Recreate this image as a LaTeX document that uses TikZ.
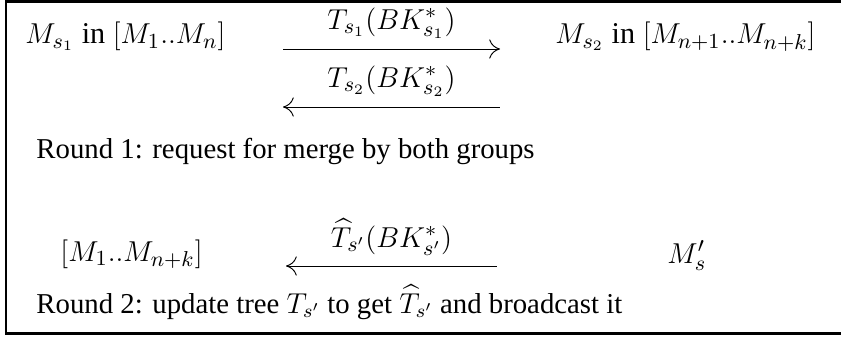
\documentclass[tikz,border=0pt,12pt]{standalone}
\usepackage{amsmath}
\usepackage{amssymb}
\usepackage{fontspec}
\setmainfont{Liberation Serif}
\usepackage{tikz}
\usetikzlibrary{arrows}
\usetikzlibrary{arrows.meta}
\newcommand{\bkey}[1]{BK^*_{#1}}
\newcommand{\sprime}{s'}
\newcommand{\inword}{\ \mathrm{in}\ }

\begin{document}
\begin{tikzpicture}[x=0.417pt,y=-0.417pt]
\tikzstyle{every node}=[inner sep=0pt]
\tikzstyle{mth}=[font=\fontsize{12.6}{15}\selectfont]
\tikzstyle{lbl}=[mth,inner sep=0.3333em]
\tikzstyle{fwd}=[-{To[length=4.5pt,width=8pt]}]
\tikzstyle{bwd}=[{To[length=4.5pt,width=8pt]}-]
\useasboundingbox (0,0) rectangle (841,336);
\draw[line width=1.25pt] (6,1.5) rectangle (845,333);
% round 1
\node[mth,anchor=base west] (a) at (25,44) {$M_{s_1}\inword[M_1..M_n]$};
\node[mth,anchor=base east] (b) at (816,44) {$M_{s_2}\inword[M_{n+1}..M_{n+k}]$};
\coordinate (p1) at (283,49);
\coordinate (q1) at (500,49);
\coordinate (p2) at (283,107);
\coordinate (q2) at (500,107);
\draw[fwd] (p1) -- node[lbl,above] {$T_{s_1}(\bkey{s_1})$} (q1);
\draw[bwd] (p2) -- node[lbl,above] {$T_{s_2}(\bkey{s_2})$} (q2);
\node[anchor=base west] (r1) at (36,158) {Round 1: request for merge by both groups};
% round 2
\node[mth,anchor=base west] (c) at (60,261) {$[M_1..M_{n+k}]$};
\node[mth,anchor=base west] (d) at (667,263) {$M'_s$};
\coordinate (p3) at (286,266);
\coordinate (q3) at (497,266);
\draw[bwd] (p3) -- node[lbl,above] {$\widehat{T}_{\sprime}(\bkey{\sprime})$} (q3);
\node[anchor=base west] (r2) at (36,313) {Round 2: update tree $T_{\sprime}$ to get $\widehat{T}_{\sprime}$ and broadcast it};
\end{tikzpicture}
\end{document}
